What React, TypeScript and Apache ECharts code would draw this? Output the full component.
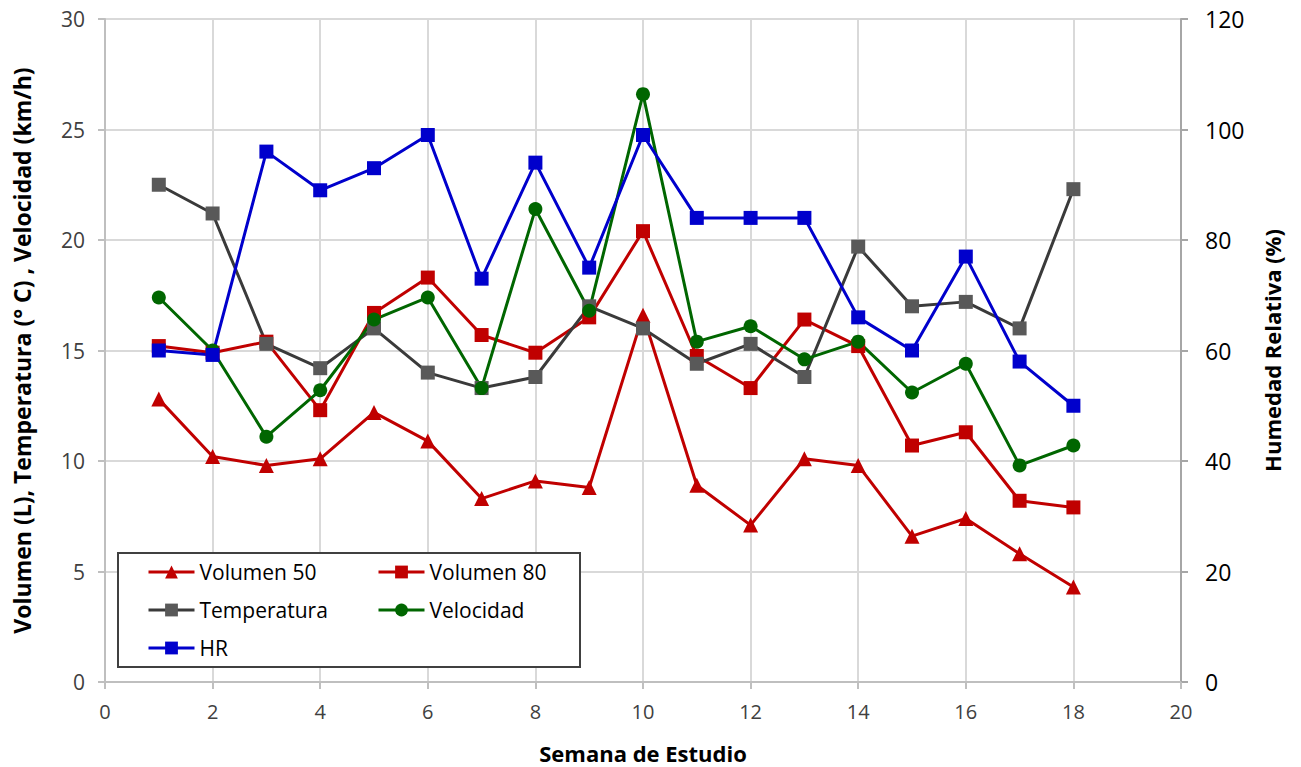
import React, { useEffect, useRef } from "react";
import * as echarts from "echarts";

const weeks = [1, 2, 3, 4, 5, 6, 7, 8, 9, 10, 11, 12, 13, 14, 15, 16, 17, 18];
const volumen50 = [12.8, 10.2, 9.8, 10.1, 12.2, 10.9, 8.3, 9.1, 8.8, 16.6, 8.9, 7.1, 10.1, 9.8, 6.6, 7.4, 5.8, 4.3];
const volumen80 = [15.2, 14.9, 15.4, 12.3, 16.7, 18.3, 15.7, 14.9, 16.5, 20.4, 14.75, 13.3, 16.4, 15.2, 10.7, 11.3, 8.2, 7.9];
const temperatura = [22.5, 21.2, 15.3, 14.2, 16.0, 14.0, 13.3, 13.8, 17.0, 16.0, 14.4, 15.3, 13.8, 19.7, 17.0, 17.2, 16.0, 22.3];
const velocidad = [17.4, 15.0, 11.1, 13.2, 16.4, 17.4, 13.3, 21.4, 16.8, 26.6, 15.4, 16.1, 14.6, 15.4, 13.1, 14.4, 9.8, 10.7];
const hr = [60, 59.2, 96, 89, 93, 99, 73, 94, 75, 99, 84, 84, 84, 66, 60, 77, 58, 50];

const FONT = "'Open Sans', sans-serif";

function pairs(vals: number[]) {
  return weeks.map((w, i) => [w, vals[i]]);
}

export default function App() {
  const ref = useRef<HTMLDivElement>(null);
  useEffect(() => {
    if (!ref.current) return;
    const chart = echarts.init(ref.current, null, { renderer: "svg" });
    const lineSeries = (name: string, data: number[], lineColor: string, markColor: string, symbol: string, size: number, yAxisIndex = 0) => ({
      name,
      type: "line",
      yAxisIndex,
      data: pairs(data),
      symbol,
      symbolSize: size,
      showAllSymbol: true,
      lineStyle: { color: lineColor, width: 3 },
      itemStyle: { color: markColor },
      emphasis: { disabled: true },
    });
    const legendText = { fontFamily: FONT, fontSize: 21, color: "#000", lineHeight: 24 };
    const legendBase = {
      z: 20,
      orient: "vertical",
      top: 560,
      padding: 0,
      itemWidth: 46,
      itemHeight: 16,
      itemGap: 14,
      textStyle: legendText,
      lineStyle: { width: 3 },
    };
    chart.setOption({
      animation: false,
      backgroundColor: "#fff",
      grid: { left: 105, right: 120, top: 19, bottom: 85, containLabel: false, outerBoundsMode: "none" },
      graphic: [
        {
          type: "rect",
          z: 10,
          shape: { x: 118, y: 553, width: 462, height: 114 },
          style: { fill: "#fff", stroke: "#404040", lineWidth: 2 },
        },
      ],
      legend: [
        { ...legendBase, left: 147, data: ["Volumen 50", "Temperatura", "HR"] },
        { ...legendBase, left: 377, data: ["Volumen 80", "Velocidad"] },
      ],
      xAxis: {
        type: "value",
        min: 0,
        max: 20,
        interval: 2,
        name: "Semana de Estudio",
        nameLocation: "middle",
        nameGap: 60,
        nameTextStyle: { fontFamily: FONT, fontSize: 22, fontWeight: "bold", color: "#000" },
        axisLine: { show: true, lineStyle: { color: "#bfbfbf", width: 2 } },
        axisTick: { show: true, inside: false, length: 7, lineStyle: { color: "#bfbfbf", width: 2 } },
        axisLabel: { fontFamily: FONT, fontSize: 20, color: "#404040", margin: 19 },
        splitLine: { show: true, lineStyle: { color: "#d9d9d9", width: 2 } },
      },
      yAxis: [
        {
          type: "value",
          min: 0,
          max: 30,
          interval: 5,
          position: "left",
          name: "Volumen (L), Temperatura (° C) , Velocidad (km/h)",
          nameLocation: "middle",
          nameGap: 72,
          nameTextStyle: { fontFamily: FONT, fontSize: 23, fontWeight: "bold", color: "#000" },
          axisLine: { show: true, lineStyle: { color: "#bfbfbf", width: 2 } },
          axisTick: { show: true, inside: false, length: 7, lineStyle: { color: "#bfbfbf", width: 2 } },
          axisLabel: { fontFamily: FONT, fontSize: 21, color: "#404040", margin: 20 },
          splitLine: { show: true, lineStyle: { color: "#d9d9d9", width: 2 } },
        },
        {
          type: "value",
          min: 0,
          max: 120,
          interval: 20,
          position: "right",
          name: "Humedad Relativa (%)",
          nameLocation: "middle",
          nameGap: 80,
          nameRotate: 90,
          nameTextStyle: { fontFamily: FONT, fontSize: 22, fontWeight: "bold", color: "#000" },
          axisLine: { show: true, lineStyle: { color: "#a6a6a6", width: 2 } },
          axisTick: { show: true, inside: false, length: 7, lineStyle: { color: "#a6a6a6", width: 2 } },
          axisLabel: { fontFamily: FONT, fontSize: 23, color: "#000", margin: 24 },
          splitLine: { show: false },
        },
      ],
      series: [
        lineSeries("Volumen 50", volumen50, "#C00000", "#C00000", "triangle", 15),
        lineSeries("Volumen 80", volumen80, "#C00000", "#C00000", "rect", 14),
        lineSeries("Temperatura", temperatura, "#3a3a3a", "#595959", "rect", 14),
        lineSeries("Velocidad", velocidad, "#006600", "#006600", "circle", 14),
        lineSeries("HR", hr, "#0000CC", "#0000CC", "rect", 14, 1),
      ],
    });
    return () => chart.dispose();
  }, []);
  return <div ref={ref} style={{ width: 1301, height: 767, position: "absolute", left: 0, top: 0 }} />;
}
